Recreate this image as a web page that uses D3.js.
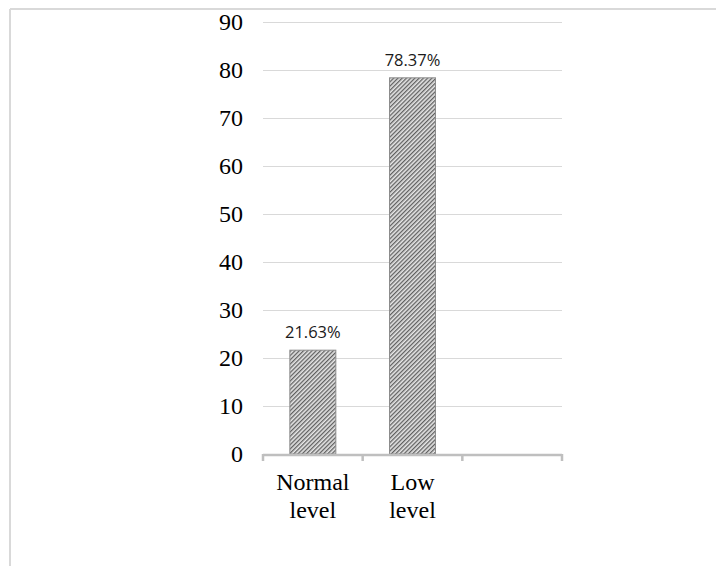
<!DOCTYPE html>
<html>
<head>
<meta charset="utf-8">
<script src="https://cdn.jsdelivr.net/npm/d3@7"></script>
<style>
  html, body { margin: 0; padding: 0; background: #fff; }
  svg { display: block; }
</style>
</head>
<body>
<svg id="chart" width="716" height="566"></svg>
<script>
// Share of respondents by level (percent)
const categories = ["Normal level", "Low level", ""];
const values = [21.63, 78.37, null];
const valueLabels = ["21.63%", "78.37%", ""];
const yTicks = [0, 10, 20, 30, 40, 50, 60, 70, 80, 90];

const svg = d3.select("#chart");
const W = 716, H = 566;
const serif = "'Liberation Serif', 'Times New Roman', Times, serif";

// outer frame (top and left edges)
svg.append("line").attr("x1", 10).attr("x2", W).attr("y1", 9).attr("y2", 9)
  .attr("stroke", "#d9d9d9").attr("stroke-width", 2);
svg.append("line").attr("x1", 10).attr("x2", 10).attr("y1", 9).attr("y2", H)
  .attr("stroke", "#d9d9d9").attr("stroke-width", 2);

const plot = { left: 263, right: 562, top: 22, bottom: 454 };

const x = d3.scaleBand().domain(categories.map((c, i) => i))
  .range([plot.left, plot.right]).paddingInner(0).paddingOuter(0);
const y = d3.scaleLinear().domain([0, 90]).range([plot.bottom, plot.top]);

// diagonal hatch pattern
const defs = svg.append("defs");
const pat = defs.append("pattern").attr("id", "hatch")
  .attr("patternUnits", "userSpaceOnUse").attr("width", 3).attr("height", 3)
  .attr("patternTransform", "rotate(45)");
pat.append("rect").attr("width", 3).attr("height", 3).attr("fill", "#e6e6e6");
pat.append("rect").attr("width", 1.3).attr("height", 3).attr("fill", "#606060");

// gridlines
svg.append("g").selectAll("line").data(yTicks.filter(t => t > 0)).join("line")
  .attr("x1", plot.left).attr("x2", plot.right)
  .attr("y1", d => Math.round(y(d)) + 0.5).attr("y2", d => Math.round(y(d)) + 0.5)
  .attr("stroke", "#d9d9d9").attr("stroke-width", 1);

// y tick labels
svg.append("g").selectAll("text").data(yTicks).join("text")
  .attr("x", 243).attr("y", d => y(d))
  .attr("dy", "0.34em")
  .attr("text-anchor", "end")
  .attr("font-family", serif)
  .attr("font-size", 24)
  .attr("fill", "#000")
  .text(d => d);

// bars
const barW = 46;
const bars = categories.map((c, i) => ({ i, v: values[i], label: valueLabels[i] }))
  .filter(d => d.v != null);

svg.append("g").selectAll("rect").data(bars).join("rect")
  .attr("x", d => x(d.i) + x.bandwidth() / 2 - barW / 2)
  .attr("y", d => y(d.v))
  .attr("width", barW)
  .attr("height", d => y(0) - y(d.v))
  .attr("fill", "url(#hatch)")
  .attr("stroke", "#8c8c8c").attr("stroke-width", 1);

// value labels
svg.append("g").selectAll("text").data(bars).join("text")
  .attr("x", d => x(d.i) + x.bandwidth() / 2)
  .attr("y", d => y(d.v) - 12)
  .attr("text-anchor", "middle")
  .attr("font-family", "'Open Sans', 'Liberation Sans', sans-serif")
  .attr("font-size", 16.5)
  .attr("fill", "#1a1a1a")
  .text(d => d.label);

// x axis line with tick marks at category boundaries
const axisG = svg.append("g");
axisG.append("line").attr("x1", plot.left).attr("x2", plot.right)
  .attr("y1", plot.bottom + 1).attr("y2", plot.bottom + 1)
  .attr("stroke", "#bfbfbf").attr("stroke-width", 2.5);
const boundaries = categories.map((c, i) => x(i)).concat([x(categories.length - 1) + x.bandwidth()]);
axisG.selectAll("line.tick").data(boundaries).join("line").attr("class", "tick")
  .attr("x1", d => d).attr("x2", d => d)
  .attr("y1", plot.bottom).attr("y2", plot.bottom + 7)
  .attr("stroke", "#bfbfbf").attr("stroke-width", 2.5);

// category labels, split on the space into two lines
const catG = svg.append("g").selectAll("text")
  .data(categories.map((c, i) => ({ c, i })).filter(d => d.c)).join("text")
  .attr("x", d => x(d.i) + x.bandwidth() / 2)
  .attr("y", 490)
  .attr("text-anchor", "middle")
  .attr("font-family", serif)
  .attr("font-size", 24)
  .attr("fill", "#000");
catG.each(function(d) {
  const parts = d.c.split(" ");
  const t = d3.select(this);
  parts.forEach((p, k) => {
    t.append("tspan").attr("x", x(d.i) + x.bandwidth() / 2)
      .attr("dy", k === 0 ? 0 : 28).text(p);
  });
});
</script>
</body>
</html>
